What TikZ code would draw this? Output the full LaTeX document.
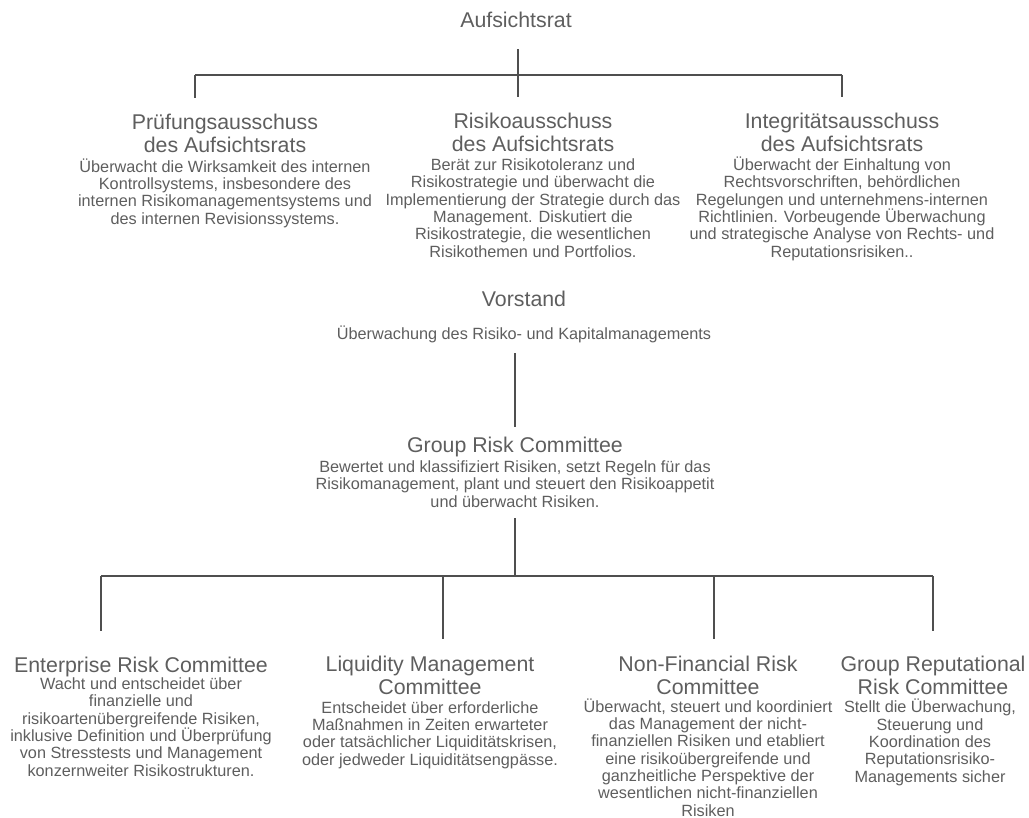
\documentclass[tikz,border=0pt]{standalone}
\usepackage{fontspec}
\setmainfont{Liberation Sans}
\usetikzlibrary{positioning}
\definecolor{txtgray}{HTML}{5E5E5E}
\definecolor{linegray}{HTML}{4F4F4F}
\begin{document}
\begin{tikzpicture}[x=.75pt, y=-.75pt,
  head/.style={anchor=base, inner sep=0, align=center, text=txtgray, font=\fontsize{16}{16.9}\selectfont},
  desc/.style={anchor=base, inner sep=0, align=center, text=txtgray, font=\fontsize{12.2}{13}\selectfont},
  conn/.style={draw=linegray, line width=1.4pt}]
\useasboundingbox (0,0) rectangle (1029,818);

\node[head] (ar) at (516,27) {Aufsichtsrat};

\node[head] (pruef) at (225,152) {Prüfungsausschuss\\des Aufsichtsrats};
\node[desc] (pruefB) at (225,224) {Überwacht die Wirksamkeit des internen\\Kontrollsystems, insbesondere des\\internen Risikomanagementsystems und\\des internen Revisionssystems.};
\node[head] (risk) at (533,151) {Risikoausschuss\\des Aufsichtsrats};
\node[desc] (riskB) at (533,257) {Berät zur Risikotoleranz und\\Risikostrategie und überwacht die\\Implementierung der Strategie durch das\\Management. Diskutiert die\\Risikostrategie, die wesentlichen\\Risikothemen und Portfolios.};
\node[head] (integ) at (842,151) {Integritätsausschuss\\des Aufsichtsrats};
\node[desc] (integB) at (842,257) {Überwacht der Einhaltung von\\Rechtsvorschriften, behördlichen\\Regelungen und unternehmens-internen\\Richtlinien. Vorbeugende Überwachung\\und strategische Analyse von Rechts- und\\Reputationsrisiken..};

\node[head] (vor) at (524,306) {Vorstand};
\node[desc] (vorB) at (524,339) {Überwachung des Risiko- und Kapitalmanagements};

\node[head] (grc) at (515,452) {Group Risk Committee};
\node[desc] (grcB) at (515,507) {Bewertet und klassifiziert Risiken, setzt Regeln für das\\Risikomanagement, plant und steuert den Risikoappetit\\und überwacht Risiken.};

\node[head] (ent) at (141,672) {Enterprise Risk Committee};
\node[desc] (entB) at (141,776) {Wacht und entscheidet über\\finanzielle und\\risikoartenübergreifende Risiken,\\inklusive Definition und Überprüfung\\von Stresstests und Management\\konzernweiter Risikostrukturen.};
\node[head] (liq) at (430,694) {Liquidity Management\\Committee};
\node[desc] (liqB) at (430,765) {Entscheidet über erforderliche\\Maßnahmen in Zeiten erwarteter\\oder tatsächlicher Liquiditätskrisen,\\oder jedweder Liquiditätsengpässe.};
\node[head] (nfr) at (708,694) {Non-Financial Risk\\Committee};
\node[desc] (nfrB) at (708,816) {Überwacht, steuert und koordiniert\\das Management der nicht-\\finanziellen Risiken und etabliert\\eine risikoübergreifende und\\ganzheitliche Perspektive der\\wesentlichen nicht-finanziellen\\Risiken};
\node[head] (grr) at (933,694) {Group Reputational\\Risk Committee};
\node[desc] (grrB) at (930,782) {Stellt die Überwachung,\\Steuerung und\\Koordination des\\Reputationsrisiko-\\Managements sicher};

\coordinate (barA) at (195,75);
\coordinate (barB) at (842,75);
\coordinate (barM) at (518,75);
\draw[conn, shorten <=16.5pt, shorten >=12pt] (ar.south -| barM) -- (barM |- risk.north);
\draw[conn] (barA) -- (barB);
\draw[conn, shorten >=12pt] (barA) -- (barA |- pruef.north);
\draw[conn, shorten >=12pt] (barB) -- (barB |- integ.north);

\draw[conn, shorten <=8pt, shorten >=6.75pt] (grc.north |- vorB.south) -- (grc.north);

\coordinate (d1) at (101,576);
\coordinate (d2) at (443,576);
\coordinate (d3) at (714,576);
\coordinate (d4) at (933,576);
\draw[conn, shorten <=8.25pt] (grcB.south) -- (grcB.south |- d1);
\draw[conn] (d1) -- (d4);
\draw[conn, shorten >=18.75pt] (d1) -- (d1 |- ent.north);
\draw[conn, shorten >=12.75pt] (d2) -- (d2 |- liq.north);
\draw[conn, shorten >=12.75pt] (d3) -- (d3 |- nfr.north);
\draw[conn, shorten >=18.75pt] (d4) -- (d4 |- grr.north);
\end{tikzpicture}
\end{document}
